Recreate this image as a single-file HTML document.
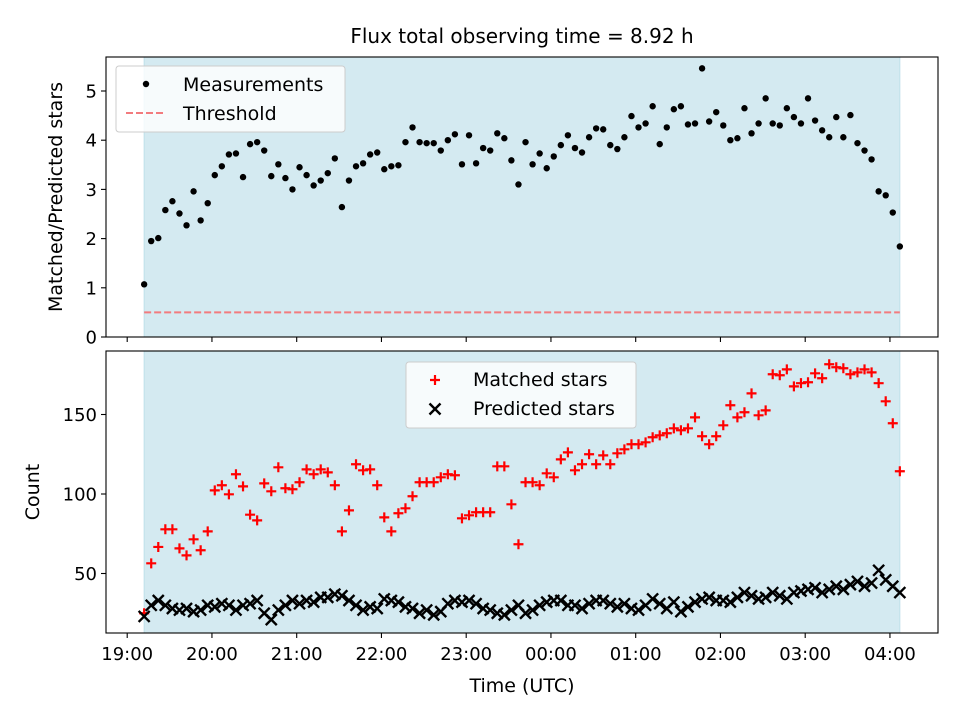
<!DOCTYPE html>
<html><head><meta charset="utf-8"><style>
body{margin:0;background:#fff;}
svg{font-family:"DejaVu Sans","Liberation Sans",sans-serif;}
</style></head><body>
<svg id="fig" width="960" height="720" viewBox="0 0 960 720" xmlns="http://www.w3.org/2000/svg">
<rect width="960" height="720" fill="#fff"/>
<text x="522" y="43" font-size="20" text-anchor="middle">Flux total observing time = 8.92 h</text>
<g id="top"></g><g id="bot"></g>
<text transform="translate(62,197) rotate(-90)" font-size="19" text-anchor="middle">Matched/Predicted stars</text>
<text transform="translate(39,492) rotate(-90)" font-size="19" text-anchor="middle">Count</text>
<text x="522" y="692" font-size="19" text-anchor="middle">Time (UTC)</text>
</svg>
<script>
const ratios=[1.07,1.95,2.01,2.58,2.76,2.51,2.27,2.96,2.37,2.72,3.29,3.47,3.71,3.73,3.25,3.92,3.96,3.79,3.27,3.51,3.23,3.00,3.45,3.29,3.08,3.18,3.33,3.63,2.64,3.18,3.47,3.53,3.71,3.75,3.41,3.47,3.49,3.96,4.26,3.96,3.94,3.94,3.79,4.00,4.12,3.51,4.10,3.53,3.84,3.79,4.14,4.04,3.59,3.10,3.96,
3.51,3.73,3.43,3.67,3.90,4.10,3.84,3.75,4.06,4.24,4.22,3.90,3.82,4.06,4.49,4.26,4.34,4.69,3.92,4.26,4.63,4.69,4.32,4.34,5.46,4.38,4.57,4.30,4.00,4.04,4.65,4.14,4.34,4.85,4.34,4.30,4.65,4.47,4.34,4.85,4.40,4.20,4.06,4.47,4.06,4.51,3.94,3.79,3.61,2.96,2.88,2.53,1.84];
const matched=[25,56.4,66.7,77.8,77.8,65.8,61.4,71.5,64.6,76.5,102.3,105.5,99.8,112.4,104.8,87,83.4,106.7,101.7,116.8,103.6,103,107.4,115.5,112.4,115.5,113.6,105.5,76.5,89.7,118.7,114.9,115.5,105.5,85.3,76.5,87.9,91,98.6,107.4,107.4,107.4,110.5,112.4,111.8,84.7,86.6,88.5,88.5,88.5,117.4,117.4,93.5,68.4,107.4,
107.4,105.5,113,110.5,121.8,126.2,114.9,118.7,125,118.7,124.3,118.7,125.6,128.1,131.3,131.3,132.5,135.7,136.9,138.2,141.3,140.1,141.3,148.2,136.3,131.3,136.3,143.2,155.8,148.2,151.4,163.3,149.5,152.6,175.3,174.7,178.4,167.7,169.7,170.3,175.9,172.8,181.6,179.7,179.1,175.3,176.5,178.4,176.5,169.7,158.3,144.5,114.3,68.4];
const predicted=[23,30,33,30,28,27,28,26,27,30,29,31,30,27,30,31,33,25,21,27,30,33,31,33,32,35,35,37,36,33,30,27,29,28,34,33,32,29,28,25,27,24,26,31,33,32,33,31,28,27,25,24,27,30,25,
27,30,32,33,33,30,30,28,31,33,33,31,29,31,28,27,30,34,31,28,32,26,29,32,34,35,33,33,32,35,38,36,34,35,38,36,34,38,39,40,41,38,40,42,40,43,45,42,44,52,46,42,38];
const startHour=0.2;
const stepMin=5;
const threshold=0.5;
const hourLabels=["19:00","20:00","21:00","22:00","23:00","00:00","01:00","02:00","03:00","04:00"];
const topTicks=[0,1,2,3,4,5];
const botTicks=[50,100,150];

const NS="http://www.w3.org/2000/svg";
const L=106,R=938;
const xS=h=>127.2+h*84.75;
const yTop=v=>337-v*49.2;
const yBot=v=>653-v*1.59;
function mk(p,tag,at){const e=document.createElementNS(NS,tag);for(const k in at)e.setAttribute(k,at[k]);p.appendChild(e);return e;}
const times=ratios.map((_,i)=>startHour+i*stepMin/60);
const x0=xS(times[0]), x1=xS(times[times.length-1]);

function panel(g,top,bot,name){
  const bg=mk(g,'rect',{x:L,y:top,width:R-L,height:bot-top,fill:'#fff'});
  
  
  const sh=mk(g,'rect',{x:x0,y:top,width:x1-x0,height:bot-top,fill:'#d4eaf1',stroke:'#bfe0ea','stroke-width':1});
  
  
}
function frame(g,top,bot,name,labels){
  const f=mk(g,'rect',{x:L,y:top,width:R-L,height:bot-top,fill:'none',stroke:'#000','stroke-width':1.1});
  
  
  hourLabels.forEach((lab,i)=>{
    const x=xS(i);
    const t=mk(g,'line',{x1:x,x2:x,y1:bot,y2:bot+5,stroke:'#000','stroke-width':1.1});
    
    
    if(labels){
      const tx=mk(g,'text',{x:x,y:bot+27,'font-size':18,'text-anchor':'middle'});
      tx.textContent=lab;
      
      
    }
  });
}
const gt=document.getElementById('top');
panel(gt,57,337,'top');
const th=mk(gt,'line',{x1:x0,x2:x1,y1:yTop(threshold),y2:yTop(threshold),stroke:'#f27b7e','stroke-width':2,'stroke-dasharray':'7,3'});


ratios.forEach((v,i)=>{
  const c=mk(gt,'circle',{cx:xS(times[i]),cy:yTop(v),r:3.2,fill:'#000'});
  
  
});
frame(gt,57,337,'top',false);
topTicks.forEach(v=>{
  const y=yTop(v);
  const t=mk(gt,'line',{x1:L-5,x2:L,y1:y,y2:y,stroke:'#000','stroke-width':1.1});
  
  
  const tx=mk(gt,'text',{x:L-9,y:y+6.5,'font-size':18,'text-anchor':'end'});
  tx.textContent=v;
  
  
});
const lg=mk(gt,'g',{});


mk(lg,'rect',{x:116,y:66,width:229,height:66,rx:3,fill:'rgba(255,255,255,0.8)',stroke:'#ccc'});
const ld=mk(lg,'circle',{cx:146,cy:84,r:3.2,fill:'#000'});


const lt1=mk(lg,'text',{x:183,y:91,'font-size':19});lt1.textContent='Measurements';


const ll=mk(lg,'line',{x1:126,x2:166,y1:113,y2:113,stroke:'#f27b7e','stroke-width':2,'stroke-dasharray':'7,3'});


const lt2=mk(lg,'text',{x:183,y:120,'font-size':19});lt2.textContent='Threshold';



const gb=document.getElementById('bot');
panel(gb,351,633,'bottom');
function plus(g,x,y){return mk(g,'path',{d:`M${x-5},${y}H${x+5}M${x},${y-5}V${y+5}`,stroke:'#f00','stroke-width':2.2,fill:'none'});}
function cross(g,x,y){return mk(g,'path',{d:`M${x-5.5},${y-5.5}L${x+5.5},${y+5.5}M${x-5.5},${y+5.5}L${x+5.5},${y-5.5}`,stroke:'#000','stroke-width':2.4,fill:'none'});}
matched.forEach((v,i)=>{
  const p=plus(gb,xS(times[i]),yBot(v));
  
  
});
predicted.forEach((v,i)=>{
  const p=cross(gb,xS(times[i]),yBot(v));
  
  
});
frame(gb,351,633,'bottom',true);
botTicks.forEach(v=>{
  const y=yBot(v);
  const t=mk(gb,'line',{x1:L-5,x2:L,y1:y,y2:y,stroke:'#000','stroke-width':1.1});
  
  
  const tx=mk(gb,'text',{x:L-9,y:y+6.5,'font-size':18,'text-anchor':'end'});
  tx.textContent=v;
  
  
});
const lb=mk(gb,'g',{});


mk(lb,'rect',{x:406,y:362,width:230,height:66,rx:3,fill:'rgba(255,255,255,0.8)',stroke:'#ccc'});
const lp=plus(lb,435,380);


const lb1=mk(lb,'text',{x:473,y:386,'font-size':19});lb1.textContent='Matched stars';


const lx=cross(lb,435,409);


const lb2=mk(lb,'text',{x:473,y:415,'font-size':19});lb2.textContent='Predicted stars';


</script>
</body></html>
